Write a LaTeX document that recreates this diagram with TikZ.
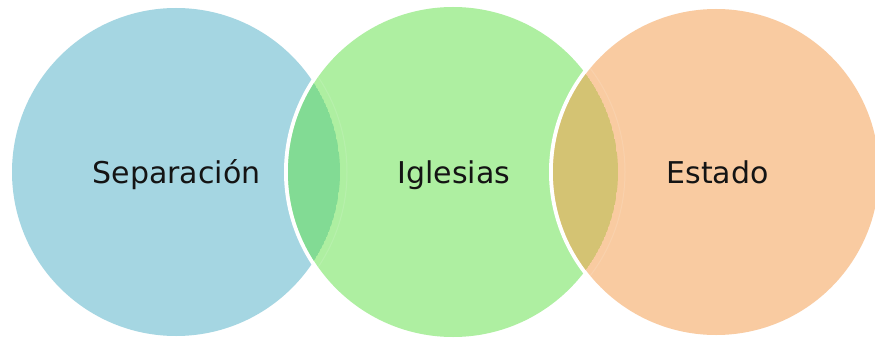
\documentclass[tikz,border=0pt]{standalone}
\usepackage{fontspec}
\setmainfont{DejaVu Sans}
\definecolor{cblue}{HTML}{A5D6E2}
\definecolor{cgreen}{HTML}{AEEFA1}
\definecolor{corange}{HTML}{F9CBA1}
\definecolor{cov1}{HTML}{82DB94}
\definecolor{cov2}{HTML}{D4C373}
\definecolor{ctext}{HTML}{141414}
\begin{document}
\begin{tikzpicture}[x=1pt,y=1pt,
  lbl/.style={text=ctext,font=\fontsize{30}{32}\selectfont,inner sep=0pt,anchor=base}]
\useasboundingbox (0,0) rectangle (875,338);
\fill[white] (0,0) rectangle (875,338);
\coordinate (cb) at (176,166);
\coordinate (cg) at (453,166);
\coordinate (co) at (716,166);
% blue
\fill[cblue] (cb) circle[radius=164];
% green with white ring
\fill[white] (cg) circle[radius=169];
\fill[cgreen] (cg) circle[radius=165];
% overlap blue-green
\begin{scope}
  \clip (cb) circle[radius=164];
  \clip (cg) circle[radius=165];
  \fill[cov1] (cb) circle[radius=164];
\end{scope}
\begin{scope}
  \clip (cg) circle[radius=165];
  \draw[white,opacity=0.12,line width=1pt] (cb) circle[radius=171];
\end{scope}
% orange with white ring
\fill[white] (co) circle[radius=167];
\fill[corange] (co) circle[radius=163];
% overlap green-orange
\begin{scope}
  \clip (cg) circle[radius=165];
  \clip (co) circle[radius=163];
  \fill[cov2] (cg) circle[radius=165];
\end{scope}
\begin{scope}
  \clip (co) circle[radius=163];
  \draw[white,opacity=0.12,line width=1pt] (cg) circle[radius=172];
\end{scope}
% labels
\node[lbl] (t1) at (176.5,155) {Separación};
\node[lbl] (t2) at (454,155) {Iglesias};
\node[lbl] (t3) at (717.5,155) {Estado};
\end{tikzpicture}
\end{document}
